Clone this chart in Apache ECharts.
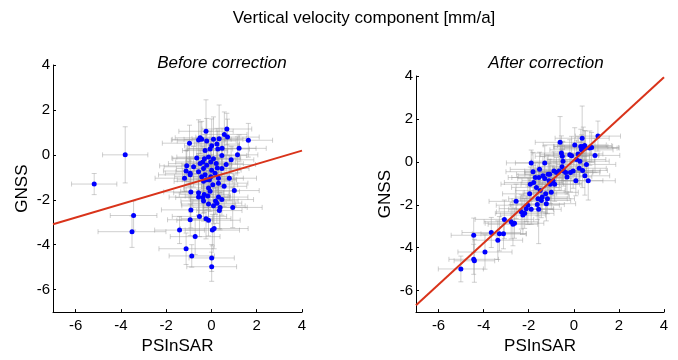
<!DOCTYPE html>
<html>
<head>
<meta charset="utf-8">
<script src="https://cdn.jsdelivr.net/npm/echarts@6/dist/echarts.min.js"></script>
<style>
  html, body { margin: 0; padding: 0; background: #fff; }
  #chart { width: 678px; height: 360px; }
</style>
</head>
<body>
<div id="chart"></div>
<script>
// [PSInSAR, GNSS, PSInSAR error, GNSS error] in mm/a
const beforeRows = [
    [-3.81, 0.00, 1.00, 1.25], [-5.18, -1.30, 1.00, 0.47], [-3.44, -2.70, 1.03, 0.65], [-3.51, -3.42, 1.50, 0.70],
    [1.63, 0.65, 1.07, 0.75], [1.22, 0.29, 1.20, 0.60], [1.15, 0.00, 0.90, 0.80], [1.01, -1.59, 1.10, 0.70],
    [0.94, -2.34, 1.30, 0.90], [0.87, -0.22, 1.00, 0.60], [0.79, -1.04, 1.20, 1.00], [0.71, 0.79, 1.40, 0.80],
    [0.68, 1.15, 1.10, 0.70], [0.57, 0.91, 1.00, 1.00], [0.65, -0.43, 1.30, 0.70], [0.47, 0.29, 1.50, 0.90],
    [0.46, -0.03, 1.10, 0.60], [0.46, -0.61, 1.20, 0.80], [0.56, -1.40, 1.00, 0.90], [0.46, -1.99, 1.40, 0.70],
    [0.38, -2.34, 1.20, 1.00], [0.35, -2.48, 1.00, 0.80], [0.31, -1.88, 1.30, 0.60], [0.31, -1.04, 1.10, 0.90],
    [0.34, 0.72, 1.20, 1.50], [0.24, 0.48, 1.00, 0.70], [0.28, 0.26, 1.40, 0.80], [0.21, -0.39, 1.20, 0.60],
    [0.26, -0.58, 1.00, 1.00], [0.31, -1.26, 1.30, 0.70], [0.24, -2.15, 1.10, 0.90], [0.18, -2.05, 1.00, 0.60],
    [0.09, -2.27, 1.40, 0.80], [0.12, -3.28, 1.50, 0.90], [0.04, -3.35, 1.20, 0.70], [0.01, -4.59, 1.00, 0.60],
    [0.01, -4.98, 1.10, 0.65], [0.09, 0.69, 1.30, 1.00], [0.01, 0.40, 1.20, 1.20], [-0.06, 0.26, 1.00, 0.80],
    [-0.13, -0.10, 1.40, 0.60], [-0.03, -0.32, 1.10, 0.90], [0.01, -0.68, 1.30, 0.70], [-0.03, -0.97, 1.00, 0.80],
    [-0.09, -1.11, 1.20, 1.00], [-0.13, -1.47, 1.10, 0.70], [-0.06, -1.62, 1.30, 0.90], [-0.16, -1.83, 1.00, 0.60],
    [-0.13, -2.19, 1.20, 0.80], [-0.13, -2.91, 1.40, 0.70], [-0.24, -2.84, 1.10, 0.90], [-0.21, 0.62, 1.30, 1.00],
    [-0.24, 1.05, 1.20, 1.40], [-0.28, 0.19, 1.00, 0.70], [-0.31, -0.17, 1.40, 0.80], [-0.21, -0.46, 1.10, 0.60],
    [-0.35, -0.61, 1.20, 0.90], [-0.28, -0.89, 1.00, 0.70], [-0.35, -1.18, 1.30, 1.00], [-0.32, -1.76, 1.10, 0.80],
    [-0.38, -1.90, 1.20, 0.70], [-0.35, -2.05, 1.00, 0.90], [-0.43, 0.69, 1.30, 0.80], [-0.50, 0.76, 1.10, 0.70],
    [-0.57, 0.66, 1.20, 0.90], [-0.50, -0.39, 1.40, 0.60], [-0.57, -0.75, 1.00, 0.80], [-0.43, -0.97, 1.20, 0.70],
    [-0.57, -1.69, 1.10, 1.00], [-0.57, -1.88, 1.30, 0.80], [-0.53, -2.74, 1.20, 0.90], [-0.72, -3.64, 1.10, 0.80],
    [-0.87, -4.50, 1.00, 0.50], [-1.12, -4.18, 1.20, 0.70], [-1.41, -3.35, 1.10, 0.60], [-0.91, -2.45, 1.30, 0.80],
    [-0.94, -2.89, 1.00, 0.70], [-0.91, -1.65, 1.20, 0.90], [-0.94, -0.82, 1.10, 0.60], [-0.94, -0.89, 1.40, 0.80],
    [-1.09, -0.49, 1.20, 0.70], [-1.12, -0.72, 1.00, 0.90], [-1.19, -1.04, 1.30, 0.60], [-0.97, 0.52, 1.20, 0.80],
    [-0.65, -0.14, 1.10, 0.70], [-0.79, -0.53, 1.30, 0.90], [0.09, -0.17, 1.20, 0.80], [0.16, -0.82, 1.00, 0.70],
    [-0.21, -1.11, 1.30, 0.60], [0.06, -1.33, 1.10, 0.90], [-0.38, -0.32, 1.20, 0.70]
];

const afterRows = [
    [-5.01, -4.99, 1.00, 0.60], [-4.44, -3.42, 1.00, 0.80], [-4.44, -4.54, 1.10, 0.70], [-4.41, -4.61, 0.90, 1.00],
    [-3.94, -4.20, 1.20, 0.80], [-3.66, -3.29, 1.30, 0.70], [-3.37, -3.65, 1.10, 0.90], [-3.30, -3.35, 1.20, 0.80],
    [-3.12, -3.35, 1.00, 0.70], [-3.08, -2.68, 1.30, 0.90], [-2.78, -2.79, 1.20, 0.80], [-2.70, -2.91, 1.10, 1.00],
    [-2.63, -2.86, 1.30, 0.70], [-2.56, -1.84, 1.20, 0.80], [-2.26, -2.48, 1.00, 0.90], [-2.18, -2.40, 1.30, 0.70],
    [-2.33, -2.33, 1.10, 0.80], [-2.11, -2.18, 1.20, 0.60], [-2.04, -2.02, 1.40, 0.90], [-1.96, -1.49, 1.20, 0.70],
    [-1.93, -1.04, 1.30, 0.80], [-1.89, -0.05, 1.10, 0.60], [-1.81, -0.46, 1.20, 0.90], [-1.89, -2.21, 1.00, 0.70],
    [-1.78, -0.96, 1.30, 0.80], [-1.71, -0.73, 1.20, 0.70], [-1.66, -1.19, 1.10, 0.90], [-1.59, -1.72, 1.30, 0.80],
    [-1.62, -1.99, 1.20, 0.70], [-1.56, -2.21, 1.00, 1.60], [-1.52, -0.35, 1.30, 0.80], [-1.55, -0.73, 1.20, 0.70],
    [-1.49, -1.34, 1.10, 0.90], [-1.44, -1.80, 1.30, 0.80], [-1.40, -1.64, 1.20, 0.70], [-1.37, -0.65, 1.10, 0.90],
    [-1.29, -0.05, 1.30, 0.80], [-1.29, -0.78, 1.20, 0.70], [-1.25, -1.49, 1.00, 0.90], [-1.22, -1.95, 1.30, 0.80],
    [-1.17, -1.72, 1.20, 0.70], [-1.14, -0.58, 1.40, 0.90], [-1.10, -0.88, 1.20, 0.80], [-1.07, -0.58, 1.10, 0.70],
    [-1.04, -1.04, 1.30, 0.90], [-1.00, -1.42, 1.20, 0.80], [-0.92, -0.88, 1.10, 0.70], [-0.88, -0.43, 1.30, 0.90],
    [-0.85, -1.04, 1.20, 0.80], [-0.77, -0.50, 1.40, 0.70], [-0.65, -0.43, 1.20, 0.90], [-0.61, 0.91, 1.10, 1.20],
    [-0.55, 0.41, 1.30, 0.80], [-0.51, 0.26, 1.20, 0.70], [-0.48, 0.03, 1.40, 0.90], [-0.52, -0.23, 1.10, 0.80],
    [-0.45, -0.43, 1.30, 0.70], [-0.36, -0.50, 1.20, 0.90], [-0.30, -0.70, 1.10, 0.80], [-0.18, 0.33, 1.30, 0.70],
    [-0.10, 0.29, 1.20, 0.90], [0.04, 0.79, 1.40, 0.80], [0.09, -0.88, 1.20, 0.70], [0.12, 0.11, 1.30, 0.90],
    [0.19, 0.37, 1.10, 0.80], [0.24, -0.30, 1.20, 0.70], [0.27, 0.03, 1.30, 0.90], [0.31, 0.72, 1.20, 0.80],
    [0.34, 0.56, 1.40, 0.70], [0.37, 1.10, 1.20, 1.50], [0.39, -0.40, 1.10, 0.80], [0.42, 0.72, 1.30, 0.90],
    [0.48, 0.76, 1.20, 0.70], [0.52, 0.64, 1.40, 0.80], [0.49, -0.65, 1.10, 0.90], [0.56, -0.12, 1.30, 0.70],
    [0.64, -0.88, 1.20, 0.90], [0.71, 0.64, 1.30, 0.80], [0.79, 0.67, 1.20, 0.70], [0.94, 0.30, 1.10, 0.80],
    [1.07, 1.20, 1.00, 0.70], [-0.03, -0.43, 1.20, 0.80], [-0.15, -0.50, 1.30, 0.90]
];

// least squares lines, end points at the axis limits
const beforeFit = [[-7, -3.09], [4, 0.19]];
const afterFit = [[-7, -6.68], [4, 3.94]];

const tickValues = [-6, -4, -2, 0, 2, 4];

const FONT = "'Liberation Sans', Arial, Helvetica, sans-serif";

function renderErrorBar (params, api) {
    const x = api.value(0);
    const y = api.value(1);
    const ex = api.value(2);
    const ey = api.value(3);
    const l = api.coord([x - ex, y]);
    const r = api.coord([x + ex, y]);
    const t = api.coord([x, y + ey]);
    const b = api.coord([x, y - ey]);
    const cap = 2.5;
    const style = { stroke: "rgba(150,150,150,0.45)", lineWidth: 1 };
    const seg = (x1, y1, x2, y2) => ({ type: "line", shape: { x1, y1, x2, y2 }, style });
    return {
        type: "group",
        children: [
            seg(l[0], l[1], r[0], r[1]),
            seg(t[0], t[1], b[0], b[1]),
            seg(l[0], l[1] - cap, l[0], l[1] + cap),
            seg(r[0], r[1] - cap, r[0], r[1] + cap),
            seg(t[0] - cap, t[1], t[0] + cap, t[1]),
            seg(b[0] - cap, b[1], b[0] + cap, b[1])
        ]
    };
}

function makeXAxis (gridIndex) {
    return {
        gridIndex,
        type: "value",
        min: -7,
        max: 4,
        name: "PSInSAR",
        nameLocation: "middle",
        nameGap: 25,
        nameTextStyle: { fontFamily: FONT, fontSize: 17, color: "#000" },
        axisLine: { onZero: false, lineStyle: { color: "#000", width: 1 } },
        axisTick: { inside: true, length: 3, customValues: tickValues, lineStyle: { color: "#000" } },
        axisLabel: { customValues: tickValues, margin: 6, fontFamily: FONT, fontSize: 15, color: "#000" },
        splitLine: { show: false }
    };
}

function makeYAxis (gridIndex) {
    return {
        gridIndex,
        type: "value",
        min: -7,
        max: 4,
        name: "GNSS",
        nameLocation: "middle",
        nameGap: 22,
        nameRotate: 90,
        nameTextStyle: { fontFamily: FONT, fontSize: 17, color: "#000" },
        axisLine: { onZero: false, lineStyle: { color: "#000", width: 1 } },
        axisTick: { inside: true, length: 3, customValues: tickValues, lineStyle: { color: "#000" } },
        axisLabel: { customValues: tickValues, margin: 3, fontFamily: FONT, fontSize: 15, color: "#000" },
        splitLine: { show: false }
    };
}

function makeSeries (rows, fit, idx) {
    return [
        {
            type: "custom",
            xAxisIndex: idx,
            yAxisIndex: idx,
            renderItem: renderErrorBar,
            data: rows,
            z: 1,
            silent: true
        },
        {
            type: "scatter",
            xAxisIndex: idx,
            yAxisIndex: idx,
            data: rows.map(r => [r[0], r[1]]),
            symbolSize: 5,
            itemStyle: { color: "#0000ff", opacity: 1 },
            z: 2
        },
        {
            type: "line",
            xAxisIndex: idx,
            yAxisIndex: idx,
            data: fit,
            symbol: "none",
            lineStyle: { color: "#d9331a", width: 2 },
            z: 3
        }
    ];
}

const chart = echarts.init(document.getElementById("chart"));
chart.setOption({
    animation: false,
    backgroundColor: "#fff",
    title: [
        {
            text: "Vertical velocity component [mm/a]",
            left: 359,
            top: 5,
            textAlign: "center",
            textStyle: { fontFamily: FONT, fontSize: 17, fontWeight: "normal", color: "#000" }
        },
        {
            text: "Before correction",
            left: 217,
            top: 50,
            textAlign: "center",
            textStyle: { fontFamily: FONT, fontSize: 17, fontStyle: "italic", fontWeight: "normal", color: "#000" }
        },
        {
            text: "After correction",
            left: 541,
            top: 50,
            textAlign: "center",
            textStyle: { fontFamily: FONT, fontSize: 17, fontStyle: "italic", fontWeight: "normal", color: "#000" }
        }
    ],
    grid: [
        { left: 53, top: 65, width: 249, height: 253 },
        { left: 416, top: 76, width: 248, height: 243 }
    ],
    xAxis: [makeXAxis(0), makeXAxis(1)],
    yAxis: [makeYAxis(0), makeYAxis(1)],
    series: [...makeSeries(beforeRows, beforeFit, 0), ...makeSeries(afterRows, afterFit, 1)]
});
</script>
</body>
</html>
